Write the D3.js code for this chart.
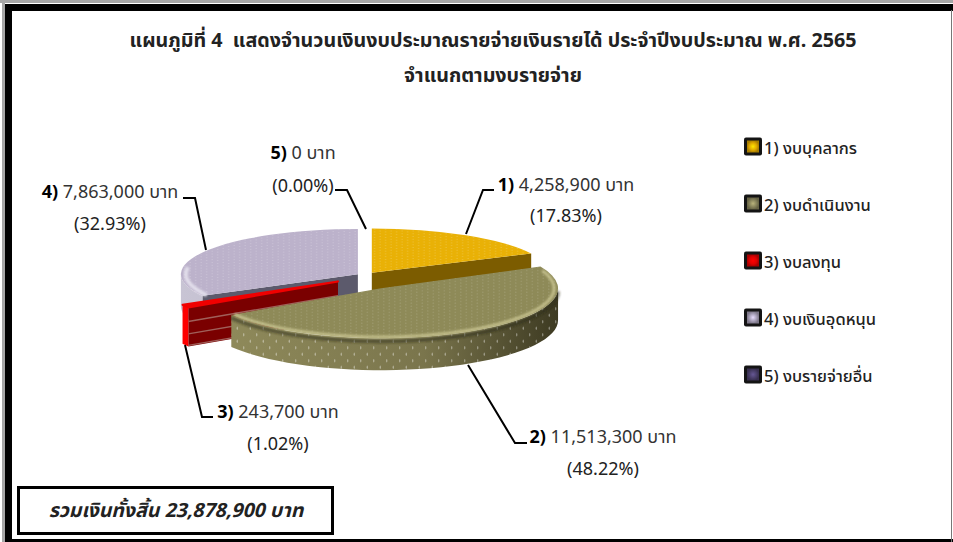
<!DOCTYPE html>
<html>
<head>
<meta charset="utf-8">
<script src="https://cdn.jsdelivr.net/npm/d3@7"></script>
<style>
  html, body { margin: 0; padding: 0; background: #fff; }
  svg { display: block; }
  text { font-family: "Noto Sans Thai", "Noto Sans", "Open Sans", sans-serif; fill: #222; }
</style>
</head>
<body>
<div id="chart"></div>
<script>
// Chart data
var categories = ["งบบุคลากร", "งบดำเนินงาน", "งบลงทุน", "งบเงินอุดหนุน", "งบรายจ่ายอื่น"];
var amounts = [4258900, 11513300, 243700, 7863000, 0];
var amountLabels = ["4,258,900", "11,513,300", "243,700", "7,863,000", "0"];
var percentLabels = ["17.83", "48.22", "1.02", "32.93", "0.00"];
var titleLines = [
  "แผนภูมิที่ 4\u00a0\u00a0แสดงจำนวนเงินงบประมาณรายจ่ายเงินรายได้ ประจำปีงบประมาณ พ.ศ. 2565",
  "จำแนกตามงบรายจ่าย"
];
var totalLabel = "รวมเงินทั้งสิ้น 23,878,900 บาท";

// Set up the SVG canvas dimensions
var w = 953;
var h = 542;

var svg = d3.select("#chart")
  .append("svg")
  .attr("width", w)
  .attr("height", h);

// Slice looks, one per category
var topColor = ["#e9b106", "#8e8a58", "#8a0000", "#bcb2cb", "#4a3f6b"];
var cutColor = ["#7c5c00", "#5e5a38", "#7a0000", "#5c5a6c", "#2c2640"];
var wallStops = [
  ["#a08000", "#6e5200", "#6e5200"],
  ["#918c5c", "#7a754c", "#3d3a22"],
  ["#ff0000", "#f00000", "#e00000"],
  ["#c8c4d4", "#b8b4c6", "#b0acbe"],
  ["#4a3f6b", "#3a3055", "#2c2640"]
];
var explode = [10, 30, 33, 10, 0];
var lift = [0.45, 0.45, 0.3, 0.45, 0.45];
var depths = [32, 32, 39, 32, 32];

// Pie geometry
var cx = 366.5;
var cy = 276.5;
var radius = 177;
var squash = 47 / 177;

var defs = svg.append("defs");

// Frame
svg.append("rect").attr("x", 0).attr("y", 0).attr("width", w).attr("height", 3).attr("fill", "#a6a6a6");
svg.append("rect").attr("x", 2).attr("y", 0).attr("width", 3).attr("height", h).attr("fill", "#a6a6a6");
svg.append("rect").attr("x", 5).attr("y", 4).attr("width", w - 5).attr("height", 7).attr("fill", "#000");
svg.append("rect").attr("x", 5).attr("y", 4).attr("width", 7).attr("height", h - 4).attr("fill", "#000");
svg.append("rect").attr("x", 5).attr("y", h - 3).attr("width", w - 5).attr("height", 3).attr("fill", "#000");
svg.append("rect").attr("x", 951).attr("y", 10).attr("width", 1).attr("height", h - 10).attr("fill", "#777");

// Title
svg.selectAll("text.title")
  .data(titleLines)
  .join("text")
  .attr("class", "title")
  .attr("x", 493)
  .attr("y", (d, i) => 47 + i * 35)
  .attr("text-anchor", "middle")
  .attr("font-size", 19.7)
  .attr("font-weight", "bold")
  .text(d => d);

// Dots on the faces
function dotPattern(id, size, rx, ry) {
  var p = defs.append("pattern")
    .attr("id", id)
    .attr("patternUnits", "userSpaceOnUse")
    .attr("width", size)
    .attr("height", size);
  p.append("ellipse").attr("cx", size / 4).attr("cy", size / 4).attr("rx", rx).attr("ry", ry).attr("fill", "#fff").attr("fill-opacity", 0.45);
  p.append("ellipse").attr("cx", size * 3 / 4).attr("cy", size * 3 / 4).attr("rx", rx).attr("ry", ry).attr("fill", "#fff").attr("fill-opacity", 0.45);
}
dotPattern("dots", 11, 0.8, 0.7);
dotPattern("wallDots", 13, 0.6, 1.7);

defs.append("filter").attr("id", "soft").append("feGaussianBlur").attr("stdDeviation", 1.2);

// Angles from the data, clockwise from 12 o'clock
var pie = d3.pie().sort(null).value(d => d);
var arcs = pie(amounts).map(function(a, i) {
  var mid = (a.startAngle + a.endAngle) / 2;
  var ratio = squash * (1 - 0.07 * Math.cos(mid));
  return {
    i: i,
    a0: a.startAngle,
    a1: a.endAngle,
    ratio: ratio,
    x: cx + explode[i] * Math.sin(mid),
    y: cy - explode[i] * lift[i] * Math.cos(mid)
  };
}).filter(a => a.a1 > a.a0);

var arc = d3.arc().innerRadius(0).outerRadius(radius);

function rimX(s, t) { return s.x + radius * Math.sin(t); }
function rimY(s, t) { return s.y - radius * s.ratio * Math.cos(t); }

// Light and dark strokes following the round rim
function rimStroke(g, s, from, to, inset, color, width, opacity) {
  var steps = d3.range(0, 61).map(t => from + (to - from) * t / 60);
  var rim = d3.line().x(t => rimX(s, t) - inset * Math.sin(t)).y(t => rimY(s, t) + inset * s.ratio * Math.cos(t));
  g.append("path").attr("d", rim(steps)).attr("fill", "none")
    .attr("stroke", color).attr("stroke-width", width).attr("stroke-opacity", opacity)
    .attr("filter", "url(#soft)");
}

// Back to front
var order = [3, 0, 2, 1];

order.forEach(function(k) {
  var s = arcs.find(a => a.i === k);
  var depth = depths[k];
  var g = svg.append("g").attr("class", "slice-" + k);

  // Straight cut faces that turn towards the viewer
  [[s.a0, s.a0 - Math.PI / 2], [s.a1, s.a1 + Math.PI / 2]].forEach(function(f) {
    if (Math.cos(f[1]) > -0.01) return;
    var ex = rimX(s, f[0]);
    var ey = rimY(s, f[0]);
    g.append("path")
      .attr("d", d3.line()([[s.x, s.y], [ex, ey], [ex, ey + depth], [s.x, s.y + depth]]) + "Z")
      .attr("fill", cutColor[k]);
    if (k === 2) {
      // Streaks across the red face
      [0.36, 0.68, 0.97].forEach(function(t) {
        g.append("path")
          .attr("d", d3.line()([[s.x, s.y + depth * t], [ex, ey + depth * t]]))
          .attr("fill", "none")
          .attr("stroke", "#a0605a")
          .attr("stroke-width", 1.3);
      });
    }
  });

  // Round outer wall, only the front half shows
  var from = Math.max(s.a0, Math.PI / 2);
  var to = Math.min(s.a1, Math.PI * 3 / 2);
  if (to > from) {
    var grad = defs.append("linearGradient")
      .attr("id", "wall" + k)
      .attr("gradientUnits", "userSpaceOnUse")
      .attr("x1", rimX(s, Math.PI * 3 / 2)).attr("x2", rimX(s, Math.PI / 2))
      .attr("y1", 0).attr("y2", 0);
    ["0%", "62%", "100%"].forEach(function(o, j) {
      grad.append("stop").attr("offset", o).attr("stop-color", wallStops[k][j]);
    });

    var steps = d3.range(0, 41).map(t => from + (to - from) * t / 40);
    var wall = d3.area()
      .x(t => rimX(s, t))
      .y0(t => rimY(s, t))
      .y1(t => rimY(s, t) + depth);
    g.append("path").attr("d", wall(steps)).attr("fill", "url(#wall" + k + ")");
    if (k === 1) {
      g.append("path").attr("d", wall(steps)).attr("fill", "url(#wallDots)");
      rimStroke(g, { x: s.x, y: s.y + 3, ratio: s.ratio }, from, to, 0, "#2a2816", 4, 0.5);
    }
  }

  // Top face
  var face = g.append("g")
    .attr("transform", "translate(" + s.x + "," + s.y + ") scale(1," + s.ratio + ")");
  var d = arc({ startAngle: s.a0, endAngle: s.a1 });
  face.append("path").attr("d", d).attr("fill", topColor[k]);
  if (k === 2) {
    // The thin red face reads as a bright edge
    g.append("path")
      .attr("d", d3.line()([[s.x, s.y], [rimX(s, s.a1), rimY(s, s.a1)], [rimX(s, s.a0), rimY(s, s.a0)]]) + "Z")
      .attr("fill", "#f00000")
      .attr("stroke", "#f00000")
      .attr("stroke-width", 2)
      .attr("stroke-linejoin", "round");
  } else {
    face.append("path").attr("d", d).attr("fill", "url(#dots)");
  }

  // Bevels along the rims
  if (k === 1) {
    rimStroke(g, s, s.a0 + 0.08, s.a1, 4, "#d8d4a0", 3, 0.7);
  }
  if (k === 3) {
    rimStroke(g, s, s.a0, Math.PI * 1.55, 5, "#ebe8f2", 4, 0.8);
  }
});

// Leader lines
var leaders = [
  [[494, 190], [483, 190], [466, 234]],
  [[527, 443], [515, 443], [468, 365]],
  [[213, 417], [202, 417], [185, 345]],
  [[183, 198], [195, 198], [206, 250]],
  [[335, 190], [347, 190], [366, 229]]
];
svg.selectAll("path.leader")
  .data(leaders)
  .join("path")
  .attr("class", "leader")
  .attr("d", d3.line())
  .attr("fill", "none")
  .attr("stroke", "#000")
  .attr("stroke-width", 2);

// Data labels
var labelPos = [
  { x: 566, y1: 191, y2: 222 },
  { x: 603, y1: 443, y2: 475 },
  { x: 278, y1: 418, y2: 450 },
  { x: 110, y1: 198, y2: 230 },
  { x: 303, y1: 159, y2: 192 }
];
amounts.forEach(function(v, i) {
  var p = labelPos[i];
  var line1 = svg.append("text")
    .attr("x", p.x).attr("y", p.y1)
    .attr("text-anchor", "middle")
    .attr("font-size", 18);
  line1.append("tspan").attr("font-weight", "bold").attr("fill", "#000").text((i + 1) + ")");
  line1.append("tspan").attr("fill", "#333").text(" " + amountLabels[i] + " บาท");
  svg.append("text")
    .attr("x", p.x).attr("y", p.y2)
    .attr("text-anchor", "middle")
    .attr("font-size", 18)
    .attr("fill", "#333")
    .text("(" + percentLabels[i] + "%)");
});

// Legend
var legendY = d3.scalePoint().domain(d3.range(categories.length)).range([146.5, 374.5]);
var legendFill = ["#e0a800", "#86825a", "#e00000", "#a8a0b8", "#4a3f6b"];
legendFill.forEach(function(c, i) {
  var g = defs.append("radialGradient").attr("id", "key" + i);
  g.append("stop").attr("offset", "0%").attr("stop-color", d3.color(c).brighter(0.9));
  g.append("stop").attr("offset", "60%").attr("stop-color", c);
  g.append("stop").attr("offset", "100%").attr("stop-color", d3.color(c).darker(0.8));
});
var legend = svg.selectAll("g.legend")
  .data(categories)
  .join("g")
  .attr("class", "legend")
  .attr("transform", (d, i) => "translate(744," + legendY(i) + ")");
legend.append("rect")
  .attr("x", 0).attr("y", -9).attr("width", 18).attr("height", 18).attr("rx", 2)
  .attr("fill", "#141414");
legend.append("rect")
  .attr("x", 3).attr("y", -6).attr("width", 12).attr("height", 12)
  .attr("fill", (d, i) => "url(#key" + i + ")");
legend.append("text")
  .attr("x", 20).attr("y", 7.5)
  .attr("font-size", 16.5)
  .attr("font-weight", 500)
  .attr("fill", "#111")
  .text((d, i) => (i + 1) + ") " + d);

// Total box
svg.append("rect")
  .attr("x", 18.5).attr("y", 487.5).attr("width", 314).attr("height", 46)
  .attr("fill", "#fff").attr("stroke", "#000").attr("stroke-width", 3);
svg.append("text")
  .attr("x", 176).attr("y", 517)
  .attr("text-anchor", "middle")
  .attr("font-size", 19.5)
  .attr("font-weight", "bold")
  .attr("font-style", "italic")
  .text(totalLabel);
</script>
</body>
</html>
